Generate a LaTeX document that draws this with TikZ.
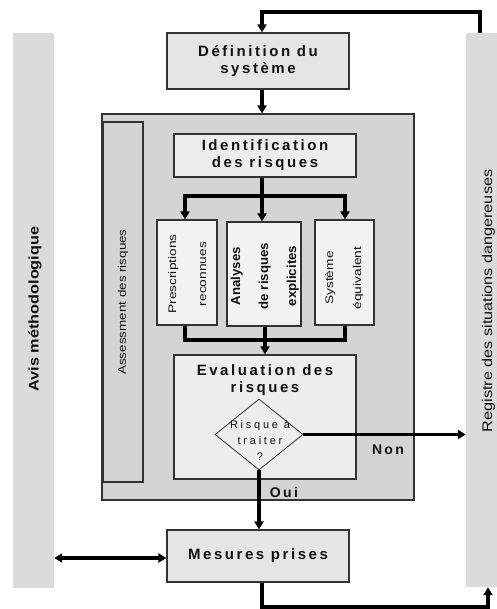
\documentclass[tikz,border=0pt]{standalone}
\usepackage{fontspec}
\setmainfont{Liberation Sans}
\newfontfamily\spc[LetterSpace=17]{Liberation Sans}
\newfontfamily\spcw[LetterSpace=25]{Liberation Sans}
\usetikzlibrary{arrows.meta,shapes.geometric,calc}
\definecolor{barcol}{gray}{0.86}
\definecolor{outercol}{gray}{0.83}
\definecolor{midcol}{gray}{0.90}
\definecolor{lightcol}{gray}{0.93}
\definecolor{palecol}{gray}{0.95}
\definecolor{edgecol}{gray}{0.2}
\definecolor{txt}{gray}{0.07}
\begin{document}
\begin{tikzpicture}[x=1pt,y=-1pt,
  box/.style={draw=edgecol, line width=1.2pt, rectangle, inner sep=0pt, text=txt, align=center},
  bigtxt/.style={font=\spc\bfseries\fontsize{15}{17}\selectfont},
  conn/.style={line width=3.4pt, draw=black},
  arr/.style={conn, -{Triangle[length=8pt,width=9pt]}},
  darr/.style={conn, {Triangle[length=8pt,width=9pt]}-{Triangle[length=8pt,width=9pt]}},
  lbl/.style={font=\spc\bfseries\fontsize{14}{15}\selectfont, text=txt}
]
\useasboundingbox (0,0) rectangle (496,609);
\fill[white] (0,0) rectangle (496,609);
% side bars
\node[fill=barcol, minimum width=41pt, minimum height=555pt, inner sep=0pt] (leftbar) at (33.5,310.5) {};
\node[fill=barcol, minimum width=34pt, minimum height=554pt, inner sep=0pt] (rightbar) at (483,310) {};
\node[rotate=90, text=txt, font=\bfseries\fontsize{14}{16}\selectfont] (avis) at (35,309) {\scalebox{1.16}[1]{Avis méthodologique}};
\node[rotate=90, text=txt, font=\fontsize{14}{16}\selectfont] (registre) at (488.5,301) {\scalebox{1.16}[1]{Registre des situations dangereuses}};
% outer box
\node[box, fill=outercol, minimum width=312pt, minimum height=386pt] (outer) at (258,307) {};
\node[box, fill=outercol, minimum width=40pt, minimum height=360pt] (assess) at (123,302) {};
\node[rotate=90, text=txt, font=\fontsize{11}{13}\selectfont] (assesstxt) at (123,302) {\scalebox{1.22}[1]{Assessment des risques}};
% boxes
\node[box, fill=midcol, minimum width=182pt, minimum height=56pt, bigtxt] (def) at (258,61) {Définition du\\système};
\node[box, fill=lightcol, minimum width=182pt, minimum height=43pt, bigtxt] (ident) at (265,155.5) {Identification\\des risques};
\node[box, fill=palecol, minimum width=60pt, minimum height=105pt] (presc) at (187,272.5) {};
\node[rotate=90, text=txt, align=center, font=\fontsize{11}{20}\selectfont] (presctxt) at (187,274) {\scalebox{1.25}[1]{\begin{tabular}{@{}c@{}}Prescriptions\\[10pt]reconnues\end{tabular}}};
\node[box, fill=palecol, minimum width=74pt, minimum height=104pt] (anal) at (264,274) {};
\node[rotate=90, text=txt, align=center, font=\bfseries\fontsize{13}{21}\selectfont] (analtxt) at (264,276) {\scalebox{1.02}[1]{\begin{tabular}{@{}c@{}}Analyses\\[7pt]de risques\\[7pt]explicites\end{tabular}}};
\node[box, fill=palecol, minimum width=59pt, minimum height=105pt] (sys) at (344.5,272.5) {};
\node[rotate=90, text=txt, align=center, font=\fontsize{11}{20}\selectfont] (systxt) at (343,278) {\scalebox{1.25}[1]{\begin{tabular}{@{}c@{}}Système\\[8pt]équivalent\end{tabular}}};
\node[box, fill=lightcol, minimum width=182pt, minimum height=124pt] (eval) at (265,417) {};
\node[bigtxt, text=txt, align=center] (evaltxt) at (265,380) {Evaluation des\\risques};
\node[draw=edgecol, line width=0.8pt, diamond, inner sep=0pt, minimum width=88pt, minimum height=71pt] (dia) at (259,434.5) {};
\node[text=txt, align=center, font=\spcw\fontsize{11}{16}\selectfont] (diatxt) at (260,440) {Risque à\\traiter\\?};
\node[box, fill=midcol, minimum width=182pt, minimum height=52pt, bigtxt] (mes) at (258,556) {Mesures prises};
% connectors
\coordinate (rtop) at (480,33);
\coordinate (rcorner) at (480,12);
\coordinate (dbl) at (0,558);
\coordinate (bcorner) at (488,607);
\draw[arr] (rtop) -- (rcorner) -| ([xshift=4pt]def.north);
\draw[arr] ([xshift=4pt]def.south) -- ([xshift=4pt]def.south |- outer.north);
\draw[arr] ([xshift=-3pt]ident.south) -- ([xshift=-2pt]anal.north);
\coordinate (br) at (262,196);
\draw[arr] (br) -| ([xshift=-2pt]presc.north);
\draw[arr] (br) -| ([xshift=0.5pt]sys.north);
\coordinate (mg) at (265,340);
\draw[conn] ([xshift=-2pt]presc.south) |- (mg) -| ([xshift=0.5pt]sys.south);
\draw[arr] ([xshift=1pt]anal.south) -- ([xshift=1pt]anal.south |- eval.north);
\draw[arr] (dia.east) -- (dia.east -| rightbar.west);
\draw[arr] (dia.south) -- (dia.south |- mes.north);
\draw[darr] (leftbar.east |- dbl) -- (mes.west |- dbl);
\draw[arr] ([xshift=4pt]mes.south) |- (bcorner) -- (bcorner |- rightbar.south);
\node[lbl, anchor=center] (non) at (388,450) {Non};
\node[lbl, anchor=center] (oui) at (284,492) {Oui};
\end{tikzpicture}
\end{document}
